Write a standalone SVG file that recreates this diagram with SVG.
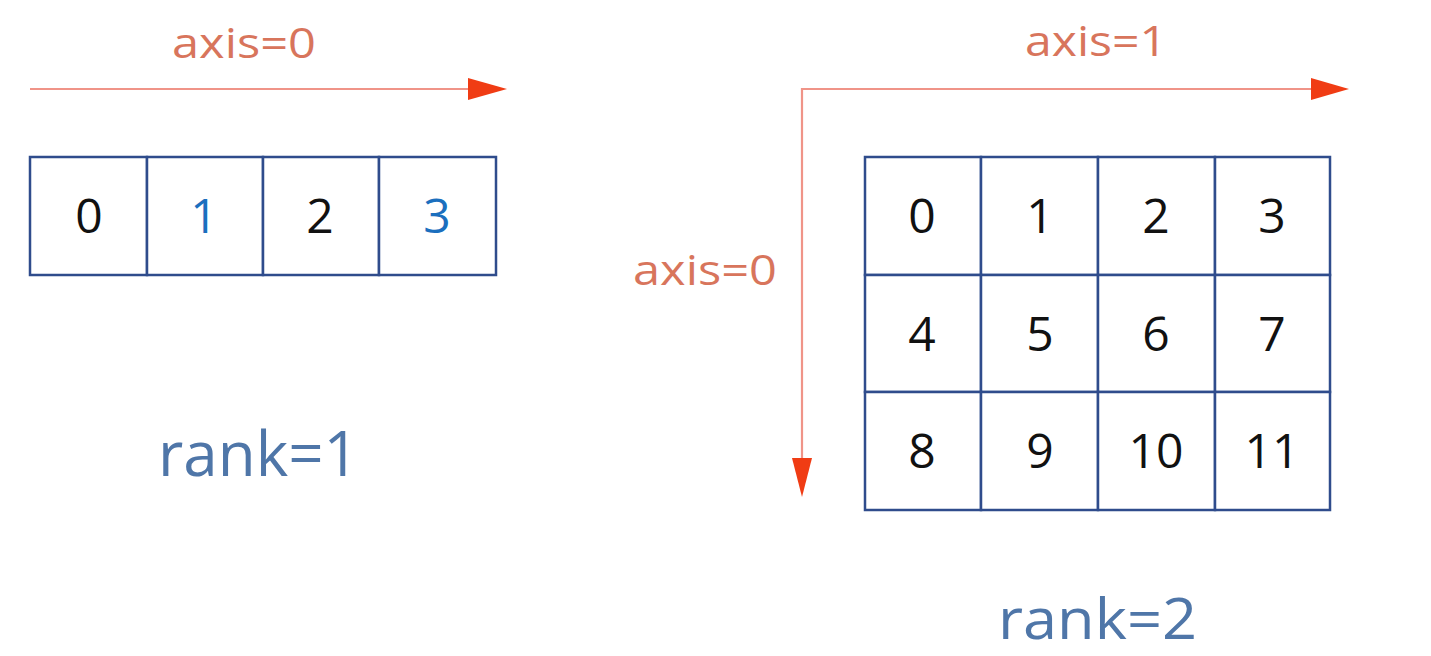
<svg xmlns="http://www.w3.org/2000/svg" width="1431" height="656" viewBox="0 0 1431 656">
<defs>
<style>
.axis{font-family:"Open Sans","Liberation Sans",sans-serif;font-size:42px;fill:#d8755c;}
.rank{font-family:"Open Sans","Liberation Sans",sans-serif;font-size:62px;fill:#4f76a8;}
.num{font-family:"Open Sans","Liberation Sans",sans-serif;font-size:48px;fill:#111;text-anchor:middle;}
.blue{fill:#1b6fbe;}
.cell{fill:#fff;stroke:#2f4c8c;stroke-width:2.5;}
.conn{fill:none;stroke:#f09488;stroke-width:2.2;}
.head{fill:#f03c14;}
</style>
</defs>
<rect width="1431" height="656" fill="#fff"/>
<g id="connectors">
<line class="conn" x1="30" y1="89" x2="470" y2="89"/>
<polygon class="head" points="468,78 507,89 468,100"/>
<polyline class="conn" points="802,458 802,89 1313,89"/>
<polygon class="head" points="1311,78 1349,89 1311,100"/>
<polygon class="head" points="792,458 812,458 802,497"/>
</g>
<g id="label-axis0-left"><text class="axis" x="172" y="58" textLength="144" lengthAdjust="spacingAndGlyphs">axis=0</text></g>
<g id="label-axis1"><text class="axis" x="1025" y="56" textLength="142" lengthAdjust="spacingAndGlyphs">axis=1</text></g>
<g id="label-axis0-right"><text class="axis" x="633" y="285" textLength="144" lengthAdjust="spacingAndGlyphs">axis=0</text></g>
<g id="array1d">
<rect class="cell" x="30" y="157" width="117" height="118"/>
<rect class="cell" x="147" y="157" width="116" height="118"/>
<rect class="cell" x="263" y="157" width="116" height="118"/>
<rect class="cell" x="379" y="157" width="117" height="118"/>
<text class="num" x="89" y="233">0</text>
<text class="num blue" x="204" y="233">1</text>
<text class="num" x="320" y="233">2</text>
<text class="num blue" x="437" y="233">3</text>
</g>
<g id="label-rank1"><text class="rank" x="158" y="476" textLength="201" lengthAdjust="spacingAndGlyphs">rank=1</text></g>
<g id="array2d">
<rect class="cell" x="865" y="157" width="116" height="118"/>
<rect class="cell" x="981" y="157" width="117" height="118"/>
<rect class="cell" x="1098" y="157" width="117" height="118"/>
<rect class="cell" x="1215" y="157" width="115" height="118"/>
<rect class="cell" x="865" y="275" width="116" height="117"/>
<rect class="cell" x="981" y="275" width="117" height="117"/>
<rect class="cell" x="1098" y="275" width="117" height="117"/>
<rect class="cell" x="1215" y="275" width="115" height="117"/>
<rect class="cell" x="865" y="392" width="116" height="118"/>
<rect class="cell" x="981" y="392" width="117" height="118"/>
<rect class="cell" x="1098" y="392" width="117" height="118"/>
<rect class="cell" x="1215" y="392" width="115" height="118"/>
<text class="num" x="922" y="233">0</text>
<text class="num" x="1040" y="233">1</text>
<text class="num" x="1156" y="233">2</text>
<text class="num" x="1272" y="233">3</text>
<text class="num" x="922" y="351">4</text>
<text class="num" x="1040" y="351">5</text>
<text class="num" x="1156" y="351">6</text>
<text class="num" x="1272" y="351">7</text>
<text class="num" x="922" y="468">8</text>
<text class="num" x="1040" y="468">9</text>
<text class="num" x="1156" y="468">10</text>
<text class="num" x="1272" y="468">11</text>
</g>
<g id="label-rank2"><text class="rank" x="998" y="639" style="font-size:56px" textLength="199" lengthAdjust="spacingAndGlyphs">rank=2</text></g>
</svg>
